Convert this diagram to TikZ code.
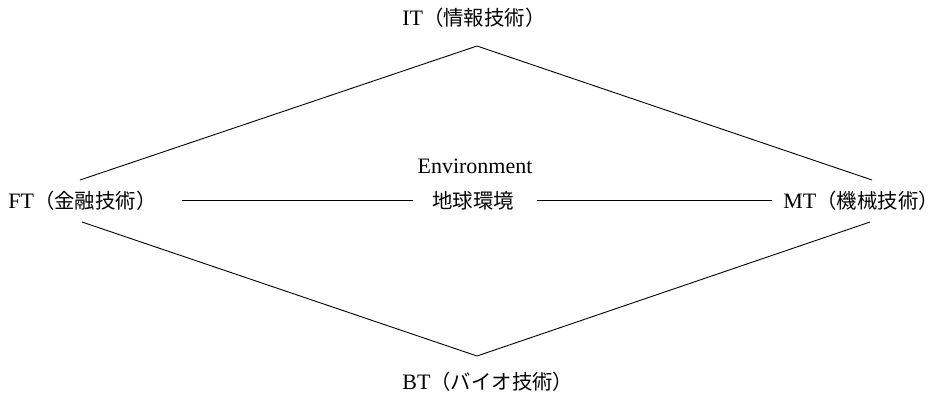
\documentclass[tikz,border=0pt]{standalone}
\usepackage{fontspec}
\setmainfont{Liberation Serif}
\newfontfamily\cjk{Noto Sans CJK JP}
\newcommand{\cjtext}[1]{{\cjk\fontsize{10.2}{12}\selectfont #1}}
\begin{document}
\begin{tikzpicture}[x=0.5pt,y=-0.5pt,
  lbl/.style={inner sep=0pt,font=\fontsize{11}{13}\selectfont},
  edge/.style={draw=black,line width=0.45pt}]
\useasboundingbox (0,0) rectangle (943,398);
% labels
\node[lbl,anchor=west] (it) at (402,18) {IT\cjtext{（情報技術）}};
\node[lbl,anchor=west] (bt) at (402,382) {BT\cjtext{（バイオ技術）}};
\node[lbl,anchor=west] (ft) at (8,201) {FT\cjtext{（金融技術）}};
\node[lbl,anchor=west] (mt) at (783,201) {MT\cjtext{（機械技術）}};
\node[lbl,anchor=base] (env) at (475,173) {Environment};
\node[lbl] (earth) at (473,201) {\cjtext{地球環境}};
% diamond corners
\coordinate (top) at (477,46);
\coordinate (bot) at (477,356);
\coordinate (lu) at (80,180);
\coordinate (ll) at (82,222);
\coordinate (ru) at (872,180);
\coordinate (rl) at (870,222);
\coordinate (h1) at (182,200.5);
\coordinate (h2) at (413,200.5);
\coordinate (h3) at (537,200.5);
\coordinate (h4) at (772,200.5);
\draw[edge] (lu) -- (top) -- (ru);
\draw[edge] (ll) -- (bot) -- (rl);
\draw[edge] (h1) -- (h2);
\draw[edge] (h3) -- (h4);
\end{tikzpicture}
\end{document}
